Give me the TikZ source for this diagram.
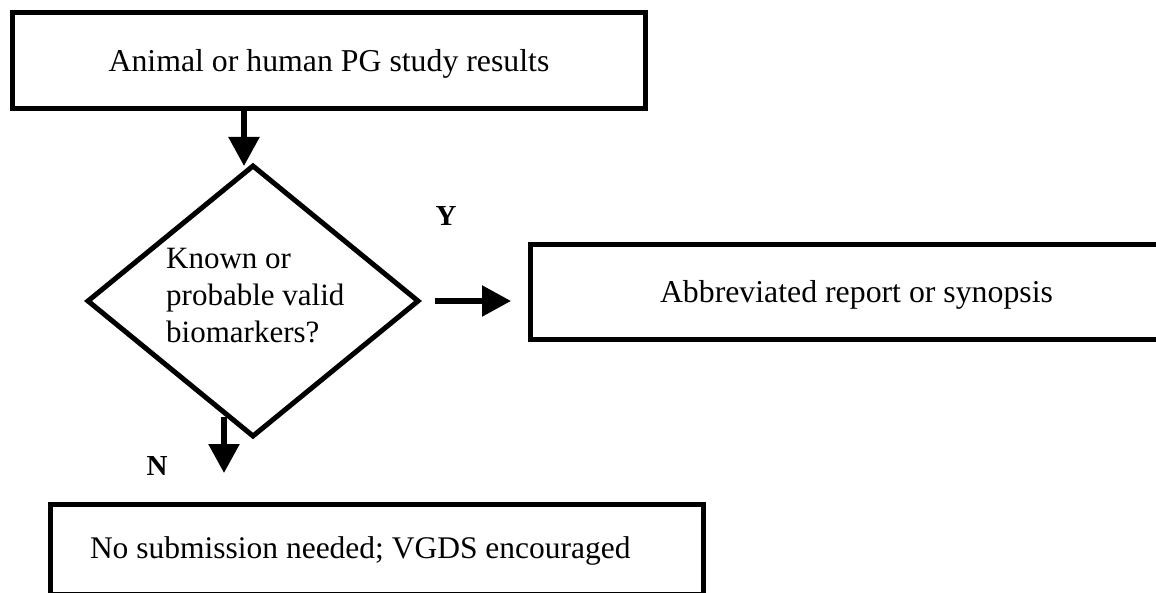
\documentclass[tikz,border=0pt]{standalone}
\usepackage{fontspec}
\setmainfont{Liberation Serif}
\usetikzlibrary{arrows.meta,shapes.geometric,calc}
\begin{document}
\begin{tikzpicture}[x=1pt,y=-1pt,
  box/.style={draw,line width=5pt,rectangle,inner sep=0pt,outer sep=0pt,
    font=\fontsize{31.8pt}{37.5pt}\selectfont,text height=21.5pt,text depth=0pt},
  decision/.style={draw,line width=5pt,diamond,inner sep=0pt,outer sep=0pt,
    minimum width=330pt,minimum height=270pt},
  arr/.style={line width=5.5pt,-{Triangle[length=29pt,width=30pt]}},
  yn/.style={font=\fontsize{29pt}{35pt}\selectfont\bfseries,anchor=base,inner sep=0pt}]
\useasboundingbox (0,0) rectangle (1156,593);
\clip (0,0) rectangle (1156,593);
\node[box,minimum width=633pt,minimum height=96pt] (top) at (329,61) {Animal or human PG study results};
\node[decision] (dec) at (253,301) {};
\node[anchor=west,align=left,inner sep=0pt,font=\fontsize{31pt}{37pt}\selectfont] (q) at (166,295.5) {Known or\\probable valid\\biomarkers?};
\node[box,minimum width=652pt,minimum height=95pt] (abbr) at (856.5,292) {Abbreviated report or synopsis};
\node[box,minimum width=653pt,minimum height=90pt,text depth=4.5pt,font=\fontsize{31.5pt}{37pt}\selectfont] (none) at (377,549.5) {\makebox[574pt][l]{No submission needed; VGDS encouraged}};
\node[yn] (ylab) at (446,226) {Y};
\node[yn] (nlab) at (157,475) {N};
\draw[arr] ([xshift=-85pt]top.south) -- ([xshift=-85pt]top.south |- dec.north);
\draw[arr] ([xshift=17pt]dec.east) -- ([xshift=-19.5pt]dec.east -| abbr.west);
\draw[arr] ([xshift=-29pt,yshift=19pt]dec.south) -- ([xshift=-153pt,yshift=31.5pt]none.north);
\end{tikzpicture}
\end{document}
